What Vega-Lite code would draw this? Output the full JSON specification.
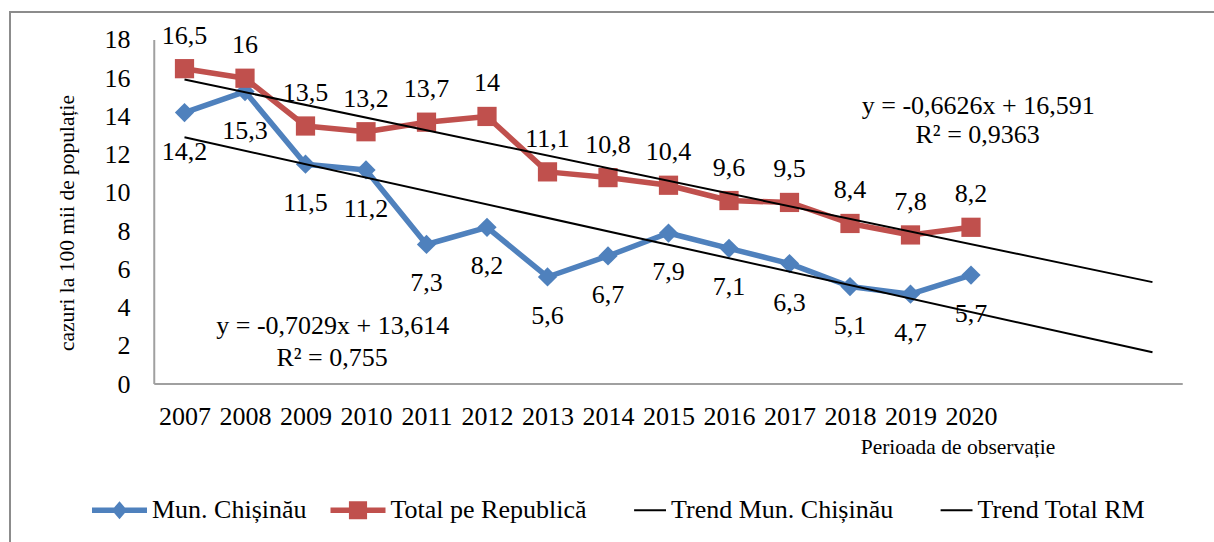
{
  "$schema": "https://vega.github.io/schema/vega-lite/v6.json",
  "width": 1210,
  "height": 536,
  "autosize": {"type": "none"},
  "padding": {"left": 10, "top": 12, "right": -6, "bottom": -6},
  "background": "white",
  "config": {
    "view": {"stroke": "#8c8c8c", "strokeWidth": 2},
    "font": "Liberation Serif",
    "locale": {"number": {"decimal": ",", "thousands": " ", "grouping": [3], "currency": ["", ""]}},
    "axis": {"grid": false, "domain": false, "ticks": false, "labelFont": "Liberation Serif", "labelFontSize": 26, "labelColor": "black", "titleFont": "Liberation Serif", "titleFontWeight": "normal", "titleColor": "black"},
    "text": {"font": "Liberation Serif", "fontSize": 26, "color": "black"}
  },
  "datasets": {
    "main": [
      {"year": 2007, "series": "Mun. Chișinău", "value": 14.2},
      {"year": 2008, "series": "Mun. Chișinău", "value": 15.3},
      {"year": 2009, "series": "Mun. Chișinău", "value": 11.5},
      {"year": 2010, "series": "Mun. Chișinău", "value": 11.2},
      {"year": 2011, "series": "Mun. Chișinău", "value": 7.3},
      {"year": 2012, "series": "Mun. Chișinău", "value": 8.2},
      {"year": 2013, "series": "Mun. Chișinău", "value": 5.6},
      {"year": 2014, "series": "Mun. Chișinău", "value": 6.7},
      {"year": 2015, "series": "Mun. Chișinău", "value": 7.9},
      {"year": 2016, "series": "Mun. Chișinău", "value": 7.1},
      {"year": 2017, "series": "Mun. Chișinău", "value": 6.3},
      {"year": 2018, "series": "Mun. Chișinău", "value": 5.1},
      {"year": 2019, "series": "Mun. Chișinău", "value": 4.7},
      {"year": 2020, "series": "Mun. Chișinău", "value": 5.7},
      {"year": 2007, "series": "Total pe Republică", "value": 16.5},
      {"year": 2008, "series": "Total pe Republică", "value": 16},
      {"year": 2009, "series": "Total pe Republică", "value": 13.5},
      {"year": 2010, "series": "Total pe Republică", "value": 13.2},
      {"year": 2011, "series": "Total pe Republică", "value": 13.7},
      {"year": 2012, "series": "Total pe Republică", "value": 14},
      {"year": 2013, "series": "Total pe Republică", "value": 11.1},
      {"year": 2014, "series": "Total pe Republică", "value": 10.8},
      {"year": 2015, "series": "Total pe Republică", "value": 10.4},
      {"year": 2016, "series": "Total pe Republică", "value": 9.6},
      {"year": 2017, "series": "Total pe Republică", "value": 9.5},
      {"year": 2018, "series": "Total pe Republică", "value": 8.4},
      {"year": 2019, "series": "Total pe Republică", "value": 7.8},
      {"year": 2020, "series": "Total pe Republică", "value": 8.2}
    ],
    "trend": [
      {"year": 2007, "series": "Trend Mun. Chișinău", "value": 12.91},
      {"year": 2023, "series": "Trend Mun. Chișinău", "value": 1.66},
      {"year": 2007, "series": "Trend Total RM", "value": 15.93},
      {"year": 2023, "series": "Trend Total RM", "value": 5.33}
    ],
    "one": [{"k": 1}]
  },
  "layer": [
    {
      "data": {"name": "main"},
      "mark": {"type": "line", "strokeWidth": 5.5, "strokeJoin": "round", "strokeCap": "round"},
      "encoding": {
        "x": {
          "field": "year", "type": "quantitative",
          "scale": {"domain": [2004.1157, 2024.1157], "nice": false, "zero": false},
          "axis": {
            "values": [2007, 2008, 2009, 2010, 2011, 2012, 2013, 2014, 2015, 2016, 2017, 2018, 2019, 2020],
            "format": "d", "offset": -164, "labelPadding": 19.5, "labelOverlap": false, "labelFlush": false,
            "title": "Perioada de observație", "titleFontSize": 21.5,
            "titleX": 947.5, "titleY": 63.5, "titleAlign": "center", "titleBaseline": "middle", "titleAngle": 0
          }
        },
        "y": {
          "field": "value", "type": "quantitative",
          "scale": {"domain": [-8.581, 19.465], "nice": false, "zero": false},
          "axis": {
            "values": [0, 2, 4, 6, 8, 10, 12, 14, 16, 18],
            "offset": -144, "labelPadding": 24, "labelOverlap": false, "labelFlush": false,
            "title": "cazuri la 100 mii de populație", "titleFontSize": 21.5,
            "titleX": -87, "titleY": 210.5, "titleAngle": 270, "titleAlign": "center", "titleBaseline": "middle"
          }
        },
        "stroke": {"field": "series", "type": "nominal", "scale": {"domain": ["Mun. Chișinău", "Total pe Republică"], "range": ["#4F81BD", "#C0504D"]}, "legend": null}
      }
    },
    {
      "data": {"name": "one"},
      "mark": {"type": "rule", "color": "#a0a0a0", "strokeWidth": 2},
      "encoding": {
        "x": {"datum": 2006.5, "type": "quantitative"},
        "y": {"datum": 0, "type": "quantitative"},
        "y2": {"datum": 18}
      }
    },
    {
      "data": {"name": "one"},
      "mark": {"type": "rule", "color": "#a0a0a0", "strokeWidth": 2},
      "encoding": {
        "x": {"datum": 2006.5, "type": "quantitative"},
        "x2": {"datum": 2023.5},
        "y": {"datum": 0, "type": "quantitative"}
      }
    },
    {
      "data": {"name": "main"},
      "mark": {"type": "point", "filled": true, "opacity": 1, "size": 370, "strokeWidth": 0},
      "encoding": {
        "x": {"field": "year", "type": "quantitative"},
        "y": {"field": "value", "type": "quantitative"},
        "shape": {"field": "series", "type": "nominal", "scale": {"domain": ["Mun. Chișinău", "Total pe Republică"], "range": ["diamond", "square"]}, "legend": null},
        "color": {
          "field": "series", "type": "nominal",
          "scale": {"domain": ["Mun. Chișinău", "Total pe Republică", "Trend Mun. Chișinău", "Trend Total RM"], "range": ["#4F81BD", "#C0504D", "#000000", "#000000"]},
          "legend": {
            "orient": "none", "legendX": 82, "legendY": 470.5, "direction": "horizontal", "title": null,
            "symbolSize": 3025, "labelOffset": 5, "columnPadding": 23.5, "padding": 0,
            "labelFont": "Liberation Serif", "labelFontSize": 26, "labelColor": "black", "labelLimit": 400,
            "encode": {
              "symbols": {
                "shape": {
                  "condition": [
                    {"test": "datum.value === 'Mun. Chișinău'", "value": "M-1,-0.1H1V0.1H-1Z M0,-0.33L0.28,0L0,0.33L-0.28,0Z"},
                    {"test": "datum.value === 'Total pe Republică'", "value": "M-1,-0.1H1V0.1H-1Z M-0.33,-0.33H0.33V0.33H-0.33Z"}
                  ],
                  "value": "M-0.16,-0.036H1V0.036H-0.16Z"
                },
                "strokeWidth": {"value": 0},
                "opacity": {"value": 1}
              }
            },
            "encoding": {
              "symbols": {
                "shape": {
                  "condition": [
                    {"test": "datum.value === 'Mun. Chișinău'", "value": "M-1,-0.1H1V0.1H-1Z M0,-0.33L0.28,0L0,0.33L-0.28,0Z"},
                    {"test": "datum.value === 'Total pe Republică'", "value": "M-1,-0.1H1V0.1H-1Z M-0.33,-0.33H0.33V0.33H-0.33Z"}
                  ],
                  "value": "M-0.16,-0.036H1V0.036H-0.16Z"
                },
                "strokeWidth": {"value": 0},
                "opacity": {"value": 1}
              }
            }
          }
        }
      }
    },
    {
      "data": {"name": "trend"},
      "mark": {"type": "line", "color": "#000000", "strokeWidth": 2},
      "encoding": {
        "x": {"field": "year", "type": "quantitative"},
        "y": {"field": "value", "type": "quantitative"},
        "detail": {"field": "series", "type": "nominal"}
      }
    },
    {
      "data": {"name": "main"},
      "transform": [{"filter": "datum.series === 'Total pe Republică'"}],
      "mark": {"type": "text", "font": "Liberation Serif", "fontSize": 26, "color": "black", "dy": -33, "align": "center", "baseline": "middle"},
      "encoding": {
        "x": {"field": "year", "type": "quantitative"},
        "y": {"field": "value", "type": "quantitative"},
        "text": {"field": "value", "type": "quantitative", "format": "~g"}
      }
    },
    {
      "data": {"name": "main"},
      "transform": [{"filter": "datum.series === 'Mun. Chișinău'"}],
      "mark": {"type": "text", "font": "Liberation Serif", "fontSize": 26, "color": "black", "dy": 39, "align": "center", "baseline": "middle"},
      "encoding": {
        "x": {"field": "year", "type": "quantitative"},
        "y": {"field": "value", "type": "quantitative"},
        "text": {"field": "value", "type": "quantitative", "format": "~g"}
      }
    },
    {
      "data": {"name": "one"},
      "mark": {"type": "text", "font": "Liberation Serif", "fontSize": 26, "color": "black", "align": "center", "baseline": "middle"},
      "encoding": {
        "x": {"datum": 2009.45, "type": "quantitative"},
        "y": {"datum": 3.02, "type": "quantitative"},
        "text": {"value": "y = -0,7029x + 13,614"}
      }
    },
    {
      "data": {"name": "one"},
      "mark": {"type": "text", "font": "Liberation Serif", "fontSize": 26, "color": "black", "align": "center", "baseline": "middle"},
      "encoding": {
        "x": {"datum": 2009.44, "type": "quantitative"},
        "y": {"datum": 1.37, "type": "quantitative"},
        "text": {"value": "R² = 0,755"}
      }
    },
    {
      "data": {"name": "one"},
      "mark": {"type": "text", "font": "Liberation Serif", "fontSize": 26, "color": "black", "align": "center", "baseline": "middle"},
      "encoding": {
        "x": {"datum": 2020.12, "type": "quantitative"},
        "y": {"datum": 14.56, "type": "quantitative"},
        "text": {"value": "y = -0,6626x + 16,591"}
      }
    },
    {
      "data": {"name": "one"},
      "mark": {"type": "text", "font": "Liberation Serif", "fontSize": 26, "color": "black", "align": "center", "baseline": "middle"},
      "encoding": {
        "x": {"datum": 2020.11, "type": "quantitative"},
        "y": {"datum": 13.04, "type": "quantitative"},
        "text": {"value": "R² = 0,9363"}
      }
    }
  ]
}
